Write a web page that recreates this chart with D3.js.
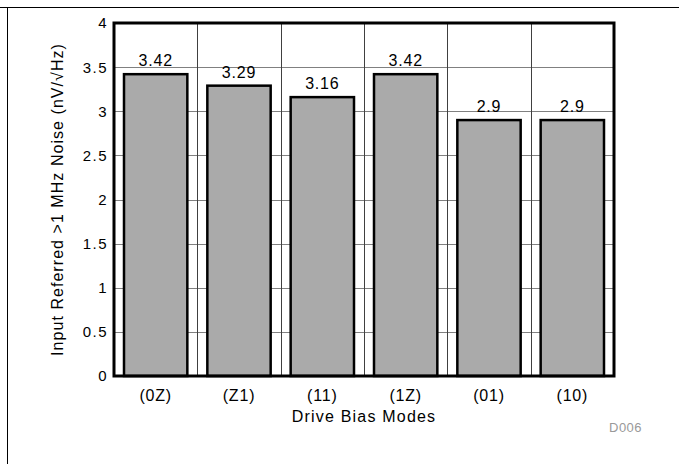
<!DOCTYPE html>
<html>
<head>
<meta charset="utf-8">
<script src="https://cdn.jsdelivr.net/npm/d3@7"></script>
<style>
  body { margin: 0; background: #fff; }
  text { font-family: "Liberation Sans", Arial, sans-serif; }
</style>
</head>
<body>
<script>
  var width = 679;
  var height = 464;

  // data
  var modes = ['(0Z)', '(Z1)', '(11)', '(1Z)', '(01)', '(10)'];
  var noise = [3.42, 3.29, 3.16, 3.42, 2.9, 2.9];
  var yTicks = [0, 0.5, 1, 1.5, 2, 2.5, 3, 3.5, 4];

  var plot = {left: 114, right: 614, top: 23, bottom: 376};

  var svg = d3.select('body').append('svg')
    .attr('width', width)
    .attr('height', height);

  // page border lines
  svg.append('line')
    .attr('x1', 0).attr('x2', width)
    .attr('y1', 7.5).attr('y2', 7.5)
    .attr('stroke', '#000');
  svg.append('line')
    .attr('x1', 7.5).attr('x2', 7.5)
    .attr('y1', 7).attr('y2', height)
    .attr('stroke', '#000');

  // scales
  var xScale = d3.scaleBand()
    .domain(modes)
    .range([plot.left, plot.right])
    .paddingInner(0.24)
    .paddingOuter(0.12);
  var xBand = d3.scaleBand()
    .domain(modes)
    .range([plot.left, plot.right]);
  var yScale = d3.scaleLinear()
    .domain([0, 4])
    .range([plot.bottom, plot.top]);

  // horizontal grid
  svg.append('g')
    .selectAll('line')
    .data(yTicks)
    .enter().append('line')
    .attr('x1', plot.left)
    .attr('x2', plot.right)
    .attr('y1', d => Math.round(yScale(d)) + 0.5)
    .attr('y2', d => Math.round(yScale(d)) + 0.5)
    .attr('stroke', '#808080')
    .attr('stroke-width', 1);

  // vertical grid at category boundaries
  svg.append('g')
    .selectAll('line')
    .data(modes.slice(1))
    .enter().append('line')
    .attr('x1', d => Math.round(xBand(d)) + 0.5)
    .attr('x2', d => Math.round(xBand(d)) + 0.5)
    .attr('y1', plot.top)
    .attr('y2', plot.bottom)
    .attr('stroke', '#404040')
    .attr('stroke-width', 1);

  // bars
  svg.append('g')
    .selectAll('rect')
    .data(noise)
    .enter().append('rect')
    .attr('x', (d, i) => xScale(modes[i]))
    .attr('width', xScale.bandwidth())
    .attr('y', d => yScale(d))
    .attr('height', d => yScale(0) - yScale(d))
    .attr('fill', '#aaaaaa')
    .attr('stroke', '#000')
    .attr('stroke-width', 2.5);

  // value labels
  svg.append('g')
    .selectAll('text')
    .data(noise)
    .enter().append('text')
    .attr('x', (d, i) => xScale(modes[i]) + xScale.bandwidth() / 2)
    .attr('y', d => yScale(d) - 8)
    .attr('text-anchor', 'middle')
    .attr('font-size', 16)
    .attr('letter-spacing', 0.8)
    .text(d => d);

  // plot frame
  svg.append('rect')
    .attr('x', plot.left)
    .attr('y', plot.top)
    .attr('width', plot.right - plot.left)
    .attr('height', plot.bottom - plot.top)
    .attr('fill', 'none')
    .attr('stroke', '#000')
    .attr('stroke-width', 3);

  // y tick labels
  svg.append('g')
    .selectAll('text')
    .data(yTicks)
    .enter().append('text')
    .attr('x', plot.left - 6)
    .attr('y', d => yScale(d))
    .attr('dy', '0.36em')
    .attr('text-anchor', 'end')
    .attr('font-size', 15)
    .attr('letter-spacing', 1.5)
    .text(d => d);

  // x tick labels
  svg.append('g')
    .selectAll('text')
    .data(modes)
    .enter().append('text')
    .attr('x', d => xBand(d) + xBand.bandwidth() / 2)
    .attr('y', 401)
    .attr('text-anchor', 'middle')
    .attr('font-size', 16)
    .attr('letter-spacing', 0.8)
    .text(d => d);

  // axis titles
  svg.append('text')
    .attr('x', (plot.left + plot.right) / 2)
    .attr('y', 422)
    .attr('text-anchor', 'middle')
    .attr('font-size', 16)
    .attr('letter-spacing', 1.2)
    .text('Drive Bias Modes');

  svg.append('text')
    .attr('transform', 'translate(63,' + (plot.top + plot.bottom) / 2 + ') rotate(-90)')
    .attr('text-anchor', 'middle')
    .attr('font-size', 16)
    .attr('letter-spacing', 1.05)
    .text('Input Referred >1 MHz Noise (nV/\u221AHz)');

  svg.append('text')
    .attr('x', 609)
    .attr('y', 432)
    .attr('font-size', 13)
    .attr('letter-spacing', 0.5)
    .attr('fill', '#999')
    .text('D006');
</script>
</body>
</html>
